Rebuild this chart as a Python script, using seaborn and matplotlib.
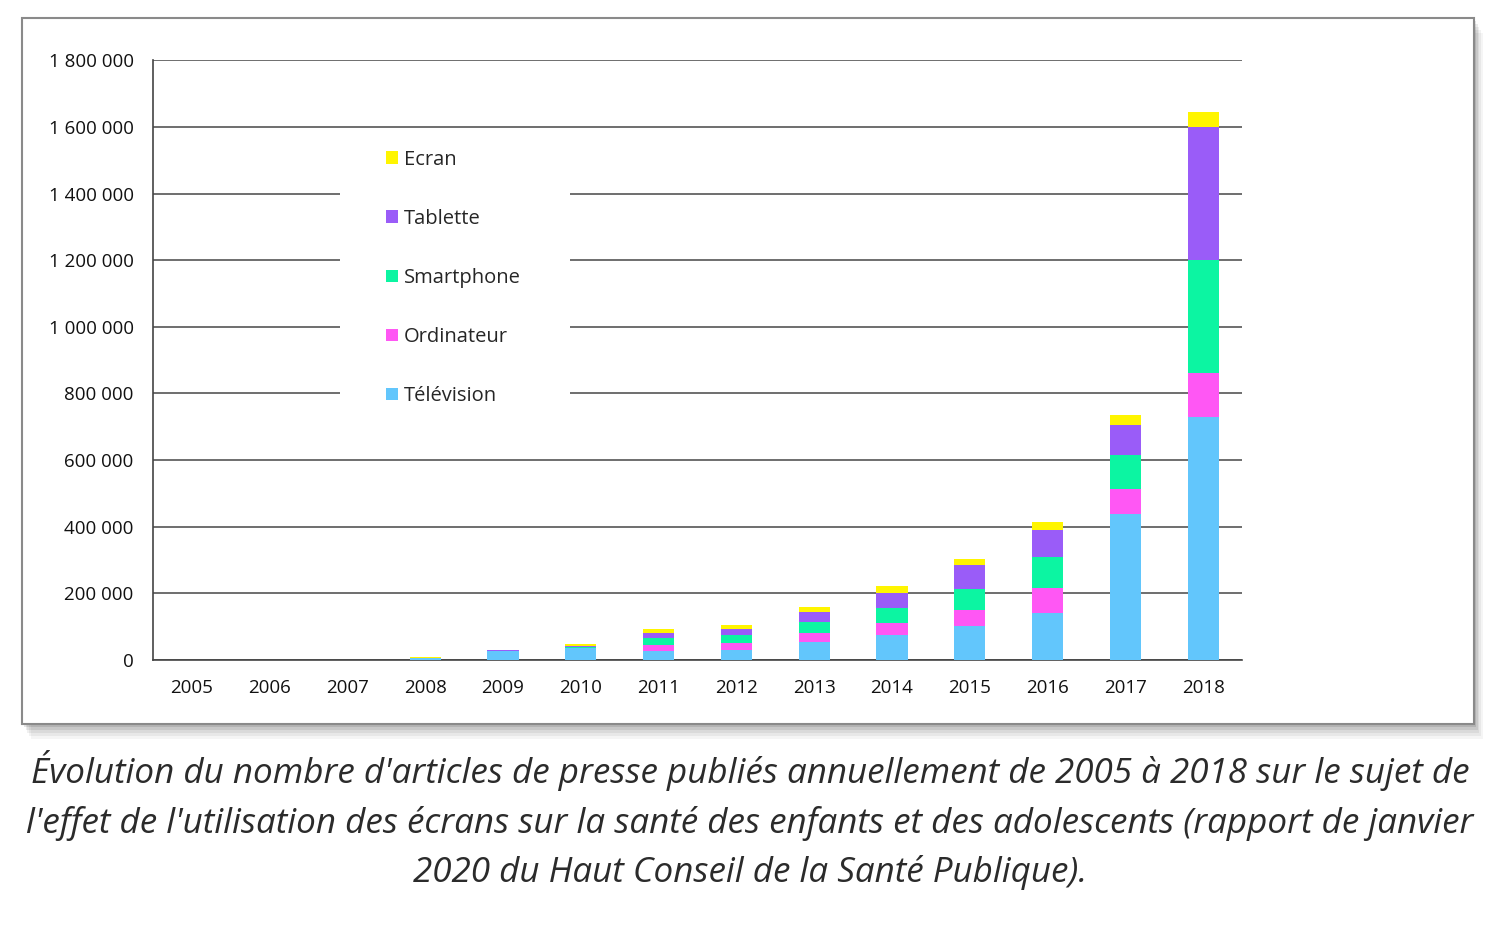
import matplotlib

matplotlib.use("Agg")
import matplotlib.pyplot as plt
import seaborn as sns
from matplotlib.patches import Patch, Rectangle
from matplotlib.ticker import FuncFormatter, MultipleLocator

years = ["2005", "2006", "2007", "2008", "2009", "2010", "2011",
         "2012", "2013", "2014", "2015", "2016", "2017", "2018"]
television = [0, 0, 0, 6000, 26000, 35000, 28000, 31000, 53000, 76000, 101000, 142000, 437000, 728000]
ordinateur = [0, 0, 0, 0, 1000, 2000, 16000, 19000, 27000, 34000, 50000, 73000, 76000, 134000]
smartphone = [0, 0, 0, 0, 1000, 2000, 21000, 25000, 34000, 46000, 62000, 95000, 102000, 340000]
tablette = [0, 0, 0, 1000, 1000, 3000, 17000, 17000, 31000, 45000, 72000, 80000, 89000, 398000]
ecran = [0, 0, 0, 1000, 1000, 6000, 11000, 12000, 15000, 22000, 19000, 24000, 30000, 45000]

series = ["Télévision", "Ordinateur", "Smartphone", "Tablette", "Ecran"]
values = [television, ordinateur, smartphone, tablette, ecran]
colors = ["#62C6FC", "#FF57F4", "#0CF5A2", "#9A5CF8", "#FFF500"]

caption = [
    "Évolution du nombre d'articles de presse publiés annuellement de 2005 à 2018 sur le sujet de",
    "l'effet de l'utilisation des écrans sur la santé des enfants et des adolescents (rapport de janvier",
    "2020 du Haut Conseil de la Santé Publique).",
]

sns.set_theme(style="white")
plt.rcParams["font.family"] = ["Open Sans", "DejaVu Sans"]

fig = plt.figure(figsize=(15, 9.52), dpi=100)
fig.patch.set_facecolor("white")

# framed card with a soft shadow
for i, a in enumerate([0.04, 0.05, 0.06, 0.08, 0.1]):
    off = (5 - i) * 0.002
    fig.patches.append(Rectangle((0.0147 + off * 0.6, 0.2395 - off * 1.6), 0.968, 0.7415,
                                 transform=fig.transFigure, facecolor="#000000",
                                 edgecolor="none", alpha=a, zorder=0))
fig.patches.append(Rectangle((0.0147, 0.2395), 0.968, 0.7415, transform=fig.transFigure,
                             facecolor="white", edgecolor="#8a8a8a", linewidth=1.5, zorder=1))

ax = fig.add_axes([0.102, 0.3067, 0.726, 0.630])
ax.set_facecolor("none")
ax.set_zorder(2)

# stacked bars: draw cumulative totals from top layer down
cum = []
running = [0] * len(years)
for vals in values:
    running = [r + v for r, v in zip(running, vals)]
    cum.append(running)
for tot, col in reversed(list(zip(cum, colors))):
    sns.barplot(x=years, y=tot, color=col, saturation=1, width=0.4,
                linewidth=0, ax=ax, zorder=3)

ax.set_xlim(-0.5, len(years) - 0.5)
ax.set_ylim(0, 1800000)
ax.yaxis.set_major_locator(MultipleLocator(200000))
ax.yaxis.set_major_formatter(FuncFormatter(lambda v, p: f"{int(v):,}".replace(",", " ")))
ax.grid(axis="y", color="#555555", linewidth=1.2)
ax.set_axisbelow(True)
for s in ["top", "right"]:
    ax.spines[s].set_visible(False)
ax.spines["left"].set_color("#444444")
ax.spines["bottom"].set_color("#444444")
ax.spines["left"].set_linewidth(1.2)
ax.spines["bottom"].set_linewidth(1.2)
ax.tick_params(axis="y", length=0, pad=14, labelsize=13.5, labelcolor="#111111")
ax.tick_params(axis="x", length=0, pad=14, labelsize=13.5, labelcolor="#111111")
ax.set_xlabel("")
ax.set_ylabel("")

# white block behind the legend breaks the gridlines
ax.add_patch(Rectangle((0.2267, 0.559), 0.1533, 0.294, transform=fig.transFigure,
                       facecolor="white", edgecolor="none", zorder=2.5))
handles = [Patch(facecolor=c, edgecolor="none", label=s) for s, c in zip(series, colors)][::-1]
leg = ax.legend(handles=handles, loc="upper left", bbox_to_anchor=(0.252, 0.851),
                bbox_transform=fig.transFigure, frameon=False, fontsize=14.5,
                handlelength=0.6, handleheight=0.6, handletextpad=0.3,
                labelspacing=1.94, borderaxespad=0)
leg.set_zorder(4)

ys = [0.191, 0.1355, 0.084]
for line, y in zip(caption, ys):
    fig.text(0.5, y, line, ha="center", va="center", fontsize=25.2,
             style="italic", color="#2b2b2b")

fig.savefig("out.png", dpi=100, facecolor="white")
plt.close(fig)
